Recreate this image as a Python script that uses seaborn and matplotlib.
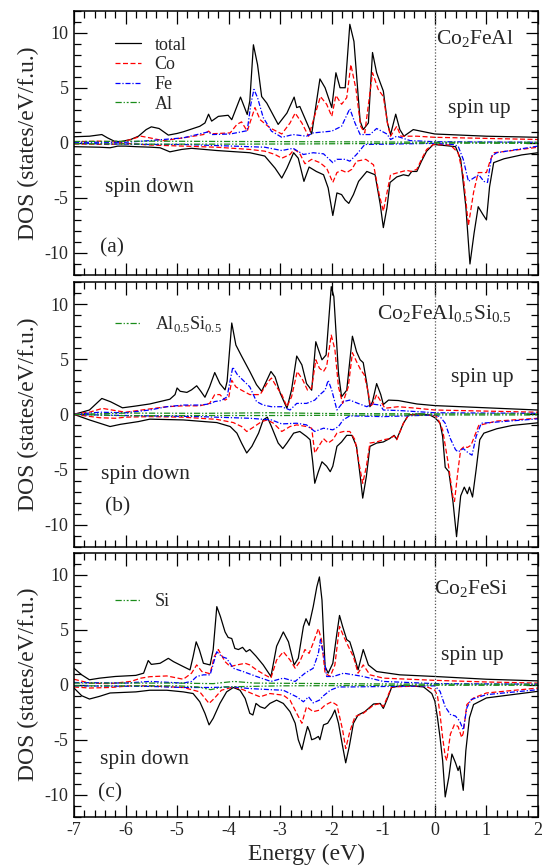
import numpy as np
import matplotlib
matplotlib.use('Agg')
import matplotlib.pyplot as plt
import seaborn as sns
from matplotlib.ticker import MultipleLocator

# ---- (a) Co2FeAl : (energy eV, DOS) ----
a_total_up = [(-7.0, 0.55), (-6.7, 0.6), (-6.46, 0.75), (-6.35, 0.45), (-6.22, 0.15), (-6.1, 0.1),
              (-5.9, 0.3), (-5.75, 0.6), (-5.6, 1.2), (-5.5, 1.45), (-5.35, 1.3), (-5.17, 0.7),
              (-5.0, 0.85), (-4.88, 1.0), (-4.56, 1.5), (-4.46, 1.8), (-4.39, 2.6), (-4.33, 1.97),
              (-4.2, 2.4), (-4.01, 2.5), (-3.94, 2.1), (-3.77, 4.15), (-3.64, 2.57), (-3.59, 3.8),
              (-3.52, 8.9), (-3.44, 7.1), (-3.36, 4.2), (-3.26, 3.6), (-3.04, 1.67), (-2.87, 2.7),
              (-2.73, 4.15), (-2.68, 3.2), (-2.62, 3.3), (-2.39, 0.8), (-2.23, 5.8), (-2.13, 5.0),
              (-2.0, 3.2), (-1.92, 6.36), (-1.84, 5.0), (-1.74, 5.0), (-1.65, 10.76), (-1.57, 9.2),
              (-1.45, 1.97), (-1.39, 1.2), (-1.29, 1.8), (-1.21, 8.2), (-1.13, 6.36), (-1.06, 5.45),
              (-1.0, 4.7), (-0.92, 1.8), (-0.86, 0.75), (-0.76, 2.6), (-0.68, 1.2), (-0.6, 0.6),
              (-0.42, 1.2), (0.0, 0.8), (1.0, 0.6), (2.0, 0.5)]
a_total_dn = [(-7.0, -0.35), (-6.5, -0.4), (-6.3, -0.45), (-6.15, -0.3), (-6.0, -0.3), (-5.8, -0.35),
              (-5.5, -0.4), (-5.33, -0.45), (-5.14, -0.82), (-4.91, -0.6), (-4.72, -0.5), (-4.23, -0.7),
              (-3.59, -0.9), (-3.3, -1.2), (-3.1, -2.3), (-2.97, -3.2), (-2.87, -2.3), (-2.74, -0.9),
              (-2.65, -1.4), (-2.54, -3.5), (-2.44, -2.2), (-2.3, -2.6), (-2.16, -2.9), (-2.07, -4.1),
              (-1.98, -6.6), (-1.9, -4.55), (-1.81, -4.7), (-1.74, -5.2), (-1.67, -5.5), (-1.58, -4.7),
              (-1.48, -3.5), (-1.32, -2.6), (-1.16, -2.9), (-1.06, -5.6), (-1.0, -7.7), (-0.93, -5.9),
              (-0.87, -3.6), (-0.74, -3.1), (-0.61, -2.9), (-0.51, -3.0), (-0.45, -2.6), (-0.35, -2.6),
              (-0.26, -1.67), (-0.16, -0.76), (-0.03, -0.15), (0.2, -0.25), (0.4, -0.35), (0.5, -1.5),
              (0.6, -5.8), (0.68, -11.0), (0.76, -8.2), (0.84, -5.8), (0.93, -6.5), (1.0, -7.0),
              (1.06, -4.0), (1.14, -1.8), (1.34, -1.45), (1.68, -1.1), (2.0, -0.9)]
a_co_up = [(-7.0, 0.1), (-6.5, 0.15), (-6.1, 0.05), (-5.9, 0.3), (-5.7, 0.6), (-5.53, 0.45),
           (-5.27, 0.2), (-4.88, 0.45), (-4.49, 0.75), (-4.39, 1.06), (-4.33, 0.82), (-3.97, 0.9),
           (-3.84, 1.67), (-3.75, 1.9), (-3.64, 1.06), (-3.49, 3.2), (-3.39, 2.1), (-3.2, 1.36),
           (-2.97, 0.8), (-2.81, 1.8), (-2.71, 2.7), (-2.58, 1.8), (-2.45, 0.6), (-2.22, 4.2),
           (-2.1, 3.5), (-2.0, 2.4), (-1.92, 4.3), (-1.81, 3.5), (-1.71, 4.1), (-1.63, 7.1),
           (-1.53, 4.85), (-1.44, 1.5), (-1.36, 0.9), (-1.21, 6.36), (-1.1, 4.85), (-1.0, 4.2),
           (-0.92, 1.8), (-0.86, 0.6), (-0.74, 1.5), (-0.66, 0.6), (-0.35, 0.6), (0.0, 0.5),
           (1.0, 0.4), (2.0, 0.3)]
a_co_dn = [(-7.0, -0.1), (-6.3, -0.15), (-6.0, -0.05), (-5.53, -0.2), (-4.88, -0.3), (-4.23, -0.4),
           (-3.59, -0.6), (-3.3, -0.76), (-3.1, -1.06), (-2.97, -1.4), (-2.81, -1.06), (-2.73, -0.6),
           (-2.63, -0.9), (-2.52, -1.9), (-2.39, -1.5), (-2.23, -1.8), (-2.1, -2.3), (-1.98, -3.6),
           (-1.9, -2.7), (-1.81, -2.5), (-1.71, -2.7), (-1.61, -2.4), (-1.52, -1.67), (-1.34, -1.5),
           (-1.19, -2.0), (-1.08, -4.7), (-1.0, -6.2), (-0.93, -4.55), (-0.86, -2.9), (-0.71, -2.7),
           (-0.55, -2.5), (-0.45, -2.6), (-0.35, -2.4), (-0.26, -1.5), (-0.16, -0.6), (-0.03, -0.15),
           (0.3, -0.2), (0.45, -0.9), (0.55, -3.0), (0.65, -7.5), (0.75, -4.5), (0.84, -2.7),
           (1.0, -2.7), (1.08, -1.5), (1.15, -0.9), (1.5, -0.7), (2.0, -0.4)]
a_fe_up = [(-7.0, 0.05), (-6.0, 0.05), (-5.53, 0.2), (-4.88, 0.45), (-4.39, 1.0), (-4.33, 0.75),
           (-3.97, 0.8), (-3.75, 1.0), (-3.64, 1.1), (-3.57, 3.5), (-3.51, 4.85), (-3.44, 4.1),
           (-3.33, 2.3), (-3.17, 1.06), (-2.97, 0.5), (-2.75, 0.75), (-2.49, 0.6), (-2.36, 0.9),
           (-2.0, 1.06), (-1.81, 1.5), (-1.65, 3.1), (-1.55, 1.8), (-1.45, 0.75), (-1.26, 0.75),
           (-1.13, 1.3), (-0.93, 0.8), (-0.86, 0.3), (-0.74, 0.6), (-0.48, 0.2), (0.0, 0.1), (2.0, 0.05)]
a_fe_dn = [(-7.0, -0.05), (-5.53, -0.15), (-4.88, -0.15), (-3.91, -0.3), (-3.3, -0.4), (-2.97, -0.7),
           (-2.75, -0.5), (-2.55, -1.06), (-2.36, -0.9), (-2.16, -1.0), (-1.98, -1.8), (-1.9, -1.5),
           (-1.74, -1.5), (-1.65, -1.67), (-1.52, -1.06), (-1.36, -0.15), (0.0, -0.05), (0.35, -0.15),
           (0.45, -0.3), (0.55, -1.5), (0.65, -3.5), (0.75, -3.2), (0.85, -2.9), (0.95, -3.5),
           (1.02, -3.6), (1.1, -1.2), (1.2, -0.9), (2.0, -0.3)]
a_sp_up = [(-7.0, 0.12), (-5.5, 0.15), (-4.0, 0.12), (-2.5, 0.1), (-1.0, 0.08), (0.0, 0.05), (2.0, 0.05)]
a_sp_dn = [(-7.0, -0.08), (-5.5, -0.12), (-4.0, -0.12), (-2.5, -0.1), (-1.0, -0.06), (0.0, -0.03), (2.0, -0.05)]

# ---- (b) Co2FeAl0.5Si0.5 ----
b_total_up = [(-7.0, 0.0), (-6.7, 0.4), (-6.46, 1.45), (-6.29, 1.15), (-6.06, 0.6), (-5.82, 0.75),
              (-5.53, 0.95), (-5.33, 1.17), (-5.14, 1.38), (-5.04, 1.8), (-5.0, 2.4), (-4.94, 2.1),
              (-4.81, 2.0), (-4.72, 2.23), (-4.62, 2.6), (-4.54, 2.1), (-4.46, 1.56), (-4.37, 2.5),
              (-4.27, 3.8), (-4.17, 2.8), (-4.07, 2.23), (-4.03, 3.0), (-3.94, 8.3), (-3.86, 6.3),
              (-3.75, 5.3), (-3.59, 3.9), (-3.46, 2.7), (-3.36, 2.1), (-3.26, 3.1), (-3.18, 3.9),
              (-3.1, 3.4), (-3.0, 1.93), (-2.87, 0.56), (-2.78, 2.23), (-2.68, 5.3), (-2.58, 4.5),
              (-2.49, 2.8), (-2.39, 2.2), (-2.31, 6.6), (-2.26, 5.9), (-2.19, 4.96), (-2.11, 5.4),
              (-2.01, 11.6), (-1.96, 10.7), (-1.87, 3.75), (-1.81, 1.6), (-1.71, 2.2), (-1.6, 7.1),
              (-1.52, 5.7), (-1.45, 4.96), (-1.39, 4.7), (-1.32, 2.8), (-1.26, 0.7), (-1.21, 1.17),
              (-1.13, 2.8), (-1.05, 1.8), (-1.0, 0.9), (-0.9, 1.3), (-0.71, 1.26), (-0.35, 0.95),
              (0.0, 0.8), (1.0, 0.6), (2.0, 0.4)]
b_total_dn = [(-7.0, 0.0), (-6.7, -0.5), (-6.5, -0.8), (-6.3, -1.1), (-6.1, -0.9), (-5.75, -0.65),
              (-5.53, -0.43), (-4.88, -0.5), (-4.23, -0.74), (-3.97, -1.1), (-3.84, -1.7), (-3.75, -2.6),
              (-3.65, -3.5), (-3.55, -2.9), (-3.42, -1.7), (-3.33, -0.5), (-3.25, -0.25), (-3.17, -1.1),
              (-3.04, -2.6), (-2.95, -3.1), (-2.87, -2.6), (-2.74, -1.7), (-2.62, -1.55), (-2.49, -2.0),
              (-2.42, -2.3), (-2.37, -4.3), (-2.33, -6.25), (-2.26, -5.2), (-2.19, -4.3), (-2.1, -4.7),
              (-2.03, -5.2), (-1.98, -4.7), (-1.9, -2.9), (-1.81, -2.5), (-1.71, -1.9), (-1.61, -1.9),
              (-1.52, -2.9), (-1.44, -5.95), (-1.4, -7.6), (-1.33, -5.65), (-1.26, -2.9), (-1.13, -2.6),
              (-1.0, -2.5), (-0.88, -2.2), (-0.79, -1.9), (-0.74, -2.25), (-0.61, -0.8), (-0.51, -0.04),
              (-0.3, 0.05), (-0.1, -0.05), (0.0, -0.3), (0.1, -0.8), (0.15, -2.0), (0.2, -4.8),
              (0.27, -5.2), (0.35, -7.9), (0.42, -11.1), (0.5, -7.4), (0.57, -6.6), (0.63, -7.2),
              (0.67, -6.6), (0.73, -7.5), (0.8, -5.0), (0.87, -2.3), (0.95, -1.7), (1.2, -1.3),
              (1.5, -1.0), (2.0, -0.76)]
b_co_up = [(-7.0, 0.05), (-6.7, 0.2), (-6.45, 0.55), (-6.2, 0.35), (-6.0, 0.2), (-5.53, 0.5),
           (-5.2, 0.7), (-4.88, 0.78), (-4.56, 0.78), (-4.37, 1.0), (-4.27, 1.8), (-4.17, 1.8),
           (-4.07, 1.3), (-4.0, 1.5), (-3.94, 3.1), (-3.86, 2.5), (-3.75, 2.2), (-3.59, 1.8),
           (-3.39, 1.8), (-3.23, 3.0), (-3.17, 3.3), (-3.07, 2.5), (-2.97, 1.8), (-2.87, 0.7),
           (-2.78, 1.6), (-2.67, 3.9), (-2.56, 3.1), (-2.47, 2.2), (-2.39, 2.4), (-2.31, 4.96),
           (-2.24, 4.2), (-2.16, 3.9), (-2.1, 4.35), (-2.01, 7.2), (-1.94, 5.9), (-1.87, 2.5),
           (-1.79, 1.0), (-1.68, 2.5), (-1.6, 5.6), (-1.52, 4.8), (-1.44, 4.05), (-1.37, 3.6),
           (-1.29, 1.93), (-1.25, 0.7), (-1.2, 1.0), (-1.13, 1.8), (-1.05, 1.2), (-0.97, 0.56),
           (-0.71, 0.7), (-0.35, 0.56), (0.0, 0.4), (1.0, 0.3), (2.0, 0.2)]
b_co_dn = [(-7.0, 0.0), (-6.5, -0.3), (-6.2, -0.35), (-6.0, -0.25), (-5.53, -0.2), (-4.88, -0.25),
           (-4.23, -0.45), (-3.91, -0.74), (-3.75, -1.1), (-3.65, -1.55), (-3.55, -1.25), (-3.36, -0.65),
           (-3.25, -0.5), (-3.13, -0.8), (-2.97, -1.55), (-2.81, -1.1), (-2.68, -0.95), (-2.49, -1.1),
           (-2.39, -1.25), (-2.33, -3.5), (-2.24, -2.8), (-2.16, -2.2), (-2.07, -2.6), (-1.98, -2.3),
           (-1.9, -1.7), (-1.77, -1.55), (-1.65, -1.55), (-1.55, -2.3), (-1.45, -5.0), (-1.4, -6.25),
           (-1.33, -4.75), (-1.26, -2.6), (-1.13, -2.5), (-1.0, -2.3), (-0.88, -2.2), (-0.79, -1.95),
           (-0.74, -2.3), (-0.61, -0.8), (-0.51, -0.04), (0.0, -0.1), (0.05, -0.3), (0.15, -1.4),
           (0.25, -4.2), (0.35, -7.5), (0.38, -7.9), (0.45, -5.0), (0.5, -3.2), (0.57, -2.9),
           (0.63, -3.0), (0.7, -2.8), (0.75, -2.2), (0.85, -1.0), (1.2, -0.6), (2.0, -0.35)]
b_fe_up = [(-7.0, 0.0), (-6.5, 0.2), (-6.0, 0.15), (-5.53, 0.4), (-5.2, 0.7), (-4.88, 0.85),
           (-4.56, 0.85), (-4.37, 0.95), (-4.27, 1.17), (-4.14, 1.26), (-4.03, 1.6), (-3.97, 3.1),
           (-3.92, 4.3), (-3.83, 3.6), (-3.72, 3.1), (-3.59, 2.5), (-3.46, 1.17), (-3.33, 0.85),
           (-3.17, 0.7), (-2.97, 0.7), (-2.81, 0.4), (-2.68, 1.0), (-2.49, 1.0), (-2.33, 1.3),
           (-2.23, 1.8), (-2.13, 2.2), (-2.07, 3.1), (-2.0, 2.2), (-1.9, 0.4), (-1.77, 1.17),
           (-1.65, 1.3), (-1.49, 1.0), (-1.32, 0.7), (-1.23, 0.95), (-1.06, 0.85), (-1.0, 0.4),
           (-0.68, 0.35), (0.0, 0.15), (2.0, 0.1)]
b_fe_dn = [(-7.0, 0.0), (-6.0, -0.1), (-5.53, -0.13), (-4.56, -0.2), (-3.59, -0.35), (-3.17, -0.5),
           (-2.97, -0.86), (-2.68, -0.8), (-2.49, -0.95), (-2.33, -1.55), (-2.16, -1.25), (-1.98, -1.4),
           (-1.87, -1.1), (-1.78, -0.5), (-1.65, -0.13), (-1.0, -0.2), (0.0, -0.05), (0.1, -0.2),
           (0.2, -0.8), (0.3, -2.2), (0.4, -3.2), (0.45, -3.4), (0.55, -3.1), (0.65, -3.5),
           (0.72, -3.7), (0.8, -2.0), (0.9, -0.8), (2.0, -0.4)]
b_sp_up = [(-7.0, 0.0), (-6.0, 0.12), (-4.5, 0.1), (-3.2, 0.15), (-2.0, 0.08), (0.0, 0.05), (2.0, 0.05)]
b_sp_dn = [(-7.0, 0.0), (-6.0, -0.12), (-4.5, -0.1), (-3.0, -0.1), (-2.0, -0.08), (0.0, -0.05), (2.0, -0.05)]

# ---- (c) Co2FeSi ----
c_total_up = [(-7.0, 1.5), (-6.85, 0.9), (-6.7, 0.45), (-6.5, 0.6), (-6.2, 0.75), (-5.8, 0.85),
              (-5.65, 1.05), (-5.56, 2.2), (-5.5, 1.85), (-5.33, 1.95), (-5.17, 2.4), (-5.07, 2.1),
              (-4.88, 1.65), (-4.75, 1.35), (-4.69, 2.55), (-4.63, 3.9), (-4.57, 3.2), (-4.49, 1.95),
              (-4.36, 1.8), (-4.3, 3.2), (-4.23, 7.1), (-4.16, 6.2), (-4.07, 4.8), (-4.01, 4.3),
              (-3.94, 4.2), (-3.88, 3.3), (-3.81, 3.2), (-3.73, 3.4), (-3.66, 3.0), (-3.59, 3.2),
              (-3.47, 2.6), (-3.33, 1.8), (-3.18, 0.75), (-3.07, 3.5), (-2.94, 4.8), (-2.84, 3.9),
              (-2.73, 1.8), (-2.65, 2.4), (-2.55, 5.3), (-2.5, 6.0), (-2.44, 5.4), (-2.36, 7.1),
              (-2.29, 8.9), (-2.24, 9.8), (-2.19, 7.7), (-2.13, 1.65), (-2.07, 1.05), (-1.98, 1.95),
              (-1.9, 4.7), (-1.85, 6.3), (-1.79, 5.3), (-1.71, 4.1), (-1.65, 3.9), (-1.58, 2.85),
              (-1.49, 1.35), (-1.39, 3.2), (-1.29, 1.8), (-1.13, 1.2), (-0.68, 0.9), (0.0, 0.75),
              (1.0, 0.5), (2.0, 0.35)]
c_total_dn = [(-7.0, -0.3), (-6.85, -1.0), (-6.7, -1.3), (-6.5, -1.05), (-6.3, -0.75), (-5.8, -0.65),
              (-5.53, -0.5), (-5.2, -0.5), (-4.88, -0.65), (-4.69, -0.8), (-4.56, -1.55), (-4.46, -2.6),
              (-4.38, -3.65), (-4.3, -3.05), (-4.17, -1.7), (-4.04, -0.65), (-3.91, -0.25), (-3.78, -0.5),
              (-3.68, -1.25), (-3.59, -2.6), (-3.53, -2.75), (-3.47, -1.7), (-3.39, -2.0), (-3.3, -2.15),
              (-3.2, -1.7), (-3.07, -1.4), (-2.94, -1.7), (-2.81, -2.45), (-2.71, -3.5), (-2.65, -5.0),
              (-2.58, -5.9), (-2.52, -4.7), (-2.47, -3.8), (-2.43, -4.25), (-2.39, -5.0), (-2.33, -4.9),
              (-2.26, -4.7), (-2.23, -5.0), (-2.16, -3.65), (-2.08, -3.5), (-2.0, -2.9), (-1.94, -2.3),
              (-1.87, -3.5), (-1.79, -5.6), (-1.73, -7.1), (-1.66, -5.6), (-1.58, -3.5), (-1.49, -2.75),
              (-1.36, -2.45), (-1.19, -1.75), (-1.06, -1.7), (-1.0, -2.15), (-0.92, -1.25), (-0.84, -0.25),
              (-0.6, -0.05), (-0.22, -0.2), (-0.06, -0.8), (0.0, -1.5), (0.05, -3.0), (0.1, -4.8),
              (0.15, -6.9), (0.2, -10.2), (0.27, -8.4), (0.33, -6.3), (0.4, -7.1), (0.45, -7.8),
              (0.48, -7.4), (0.55, -9.6), (0.6, -6.0), (0.67, -3.0), (0.75, -1.8), (1.0, -1.2),
              (1.5, -0.9), (2.0, -0.6)]
c_co_up = [(-7.0, 0.5), (-6.7, 0.15), (-6.3, 0.1), (-5.9, 0.3), (-5.7, 0.6), (-5.53, 0.73),
           (-5.2, 0.8), (-4.88, 0.5), (-4.72, 1.05), (-4.62, 1.8), (-4.52, 1.2), (-4.36, 1.0),
           (-4.28, 2.55), (-4.2, 3.2), (-4.07, 2.1), (-3.97, 1.65), (-3.84, 1.8), (-3.68, 1.95),
           (-3.59, 1.8), (-3.46, 1.35), (-3.3, 0.9), (-3.18, 0.6), (-3.07, 2.25), (-2.94, 3.0),
           (-2.81, 2.25), (-2.71, 1.5), (-2.62, 2.1), (-2.52, 3.2), (-2.44, 2.85), (-2.36, 3.8),
           (-2.26, 5.1), (-2.2, 4.1), (-2.13, 1.05), (-2.03, 0.75), (-1.94, 1.8), (-1.85, 5.3),
           (-1.77, 4.4), (-1.68, 3.5), (-1.58, 2.55), (-1.49, 1.05), (-1.39, 1.8), (-1.26, 0.9),
           (-1.0, 0.6), (0.0, 0.4), (1.0, 0.25), (2.0, 0.15)]
c_co_dn = [(-7.0, -0.2), (-6.7, -0.3), (-6.3, -0.25), (-5.9, -0.1), (-5.53, -0.1), (-4.88, -0.25),
           (-4.56, -0.65), (-4.38, -1.7), (-4.28, -1.25), (-4.14, -0.5), (-3.91, -0.2), (-3.72, -0.45),
           (-3.55, -0.8), (-3.39, -1.1), (-3.2, -0.8), (-2.94, -0.95), (-2.81, -1.4), (-2.68, -2.6),
           (-2.58, -3.5), (-2.49, -2.0), (-2.36, -2.45), (-2.23, -2.3), (-2.13, -1.85), (-2.0, -1.55),
           (-1.9, -1.85), (-1.79, -4.1), (-1.73, -5.8), (-1.65, -4.25), (-1.55, -2.9), (-1.39, -2.6),
           (-1.19, -1.85), (-1.06, -1.7), (-1.0, -2.0), (-0.92, -1.1), (-0.84, -0.2), (-0.2, -0.1),
           (0.0, -0.5), (0.05, -1.0), (0.1, -2.7), (0.15, -4.8), (0.2, -6.5), (0.23, -6.9),
           (0.3, -4.5), (0.38, -3.6), (0.45, -3.8), (0.52, -4.8), (0.55, -4.4), (0.62, -1.8),
           (0.75, -1.2), (1.0, -0.75), (2.0, -0.3)]
c_fe_up = [(-7.0, 0.2), (-6.0, 0.15), (-5.53, 0.3), (-4.88, 0.15), (-4.72, 0.3), (-4.62, 0.75),
           (-4.49, 0.9), (-4.36, 0.9), (-4.23, 3.0), (-4.13, 2.55), (-4.04, 2.4), (-3.91, 1.5),
           (-3.72, 1.2), (-3.46, 0.75), (-3.18, 0.3), (-2.94, 0.6), (-2.71, 0.3), (-2.52, 1.05),
           (-2.36, 1.5), (-2.26, 2.85), (-2.22, 4.1), (-2.15, 2.55), (-2.1, 0.75), (-1.97, 0.75),
           (-1.77, 1.05), (-1.58, 0.9), (-1.39, 0.75), (-1.0, 0.3), (0.0, 0.1), (2.0, 0.05)]
c_fe_dn = [(-7.0, -0.1), (-5.53, -0.15), (-4.88, -0.25), (-4.36, -0.25), (-3.91, -0.2), (-3.59, -0.35),
           (-3.18, -0.45), (-2.94, -0.5), (-2.68, -1.1), (-2.55, -1.55), (-2.45, -1.1), (-2.36, -1.65),
           (-2.24, -1.4), (-2.16, -1.0), (-2.03, -0.5), (-1.87, -0.2), (-1.65, -0.2), (0.0, -0.1),
           (0.1, -0.6), (0.2, -2.0), (0.3, -2.7), (0.4, -2.85), (0.48, -3.3), (0.55, -4.1),
           (0.62, -2.1), (0.7, -1.35), (1.0, -0.9), (2.0, -0.45)]
c_sp_up = [(-7.0, 0.15), (-5.0, 0.15), (-4.3, 0.1), (-3.9, 0.3), (-3.5, 0.15), (-2.0, 0.1), (0.0, 0.05), (2.0, 0.05)]
c_sp_dn = [(-7.0, -0.1), (-5.0, -0.1), (-4.6, -0.2), (-4.35, -0.45), (-4.1, -0.2), (-3.0, -0.1), (0.0, -0.05), (2.0, -0.05)]

panel_tags = ['(a)', '(b)', '(c)']
compounds = [r'Co$_\mathrm{2}$FeAl', r'Co$_\mathrm{2}$FeAl$_\mathrm{0.5}$Si$_\mathrm{0.5}$', r'Co$_\mathrm{2}$FeSi']
sp_names = ['Al', r'Al$_\mathrm{0.5}$Si$_\mathrm{0.5}$', 'Si']

sns.set_theme(style='ticks')
plt.rcParams['font.family'] = ['Liberation Serif', 'DejaVu Serif']
plt.rcParams['mathtext.fontset'] = 'custom'
plt.rcParams['mathtext.rm'] = 'Liberation Serif'
plt.rcParams['axes.unicode_minus'] = False

RED, BLUE, GREEN = '#ff0000', '#0000ff', '#1a8c1a'
LS_CO = (0, (4, 2))
LS_FE = (0, (4, 1.5, 1, 1.5))
LS_SP = (0, (5, 1.5, 1, 1.5, 1.5, 1.5))


def draw(ax, pts, color, ls, label=None):
    e, d = np.array(pts).T
    sns.lineplot(x=e, y=d, ax=ax, color=color, linestyle=ls, lw=0.9,
                 estimator=None, sort=False, label=label)


fig = plt.figure(figsize=(5.44, 8.65), dpi=100)
boxes = [(0.136, 0.6821, 0.853, 0.3056),
         (0.136, 0.3681, 0.853, 0.3056),
         (0.136, 0.0558, 0.853, 0.3052)]

panels = [
    (a_total_up, a_total_dn, a_co_up, a_co_dn, a_fe_up, a_fe_dn, a_sp_up, a_sp_dn),
    (b_total_up, b_total_dn, b_co_up, b_co_dn, b_fe_up, b_fe_dn, b_sp_up, b_sp_dn),
    (c_total_up, c_total_dn, c_co_up, c_co_dn, c_fe_up, c_fe_dn, c_sp_up, c_sp_dn),
]

# text positions (data coords): compound, spin up, spin down, tag
txt_pos = [
    [(0.03, 8.9), (0.26, 2.75), (-6.39, -4.5), (-6.49, -10.0)],
    [(-1.13, 8.6), (0.32, 2.95), (-6.48, -5.9), (-6.4, -8.85)],
    [(-0.02, 8.2), (0.11, 2.25), (-6.5, -7.2), (-6.53, -10.25)],
]
leg_top = [0.902, 0.879, 0.846]

for i, ax in enumerate([fig.add_axes(b) for b in boxes]):
    tot_u, tot_d, co_u, co_d, fe_u, fe_d, sp_u, sp_d = panels[i]
    first = i == 0
    draw(ax, tot_u, 'black', '-', 'total' if first else None)
    draw(ax, tot_d, 'black', '-')
    draw(ax, co_u, RED, LS_CO, 'Co' if first else None)
    draw(ax, co_d, RED, LS_CO)
    draw(ax, fe_u, BLUE, LS_FE, 'Fe' if first else None)
    draw(ax, fe_d, BLUE, LS_FE)
    draw(ax, sp_u, GREEN, LS_SP, sp_names[i])
    draw(ax, sp_d, GREEN, LS_SP)
    ax.axvline(0, color='#555555', ls=(0, (1, 1.5)), lw=0.9)

    ax.set_xlim(-7, 2)
    ax.set_ylim(-12, 12)
    ax.set_yticks([-10, -5, 0, 5, 10])
    ax.xaxis.set_major_locator(MultipleLocator(1))
    ax.xaxis.set_minor_locator(MultipleLocator(0.2))
    ax.yaxis.set_minor_locator(MultipleLocator(1))
    ax.tick_params(which='both', direction='in', top=True, right=True,
                   bottom=True, left=True, color='black', width=0.9)
    ax.tick_params(which='major', length=9, labelsize=13, pad=4)
    ax.tick_params(which='minor', length=5)
    for sp in ax.spines.values():
        sp.set_color('black')
        sp.set_linewidth(1.1)
    ax.set_ylabel('DOS (states/eV/f.u.)', fontsize=17, labelpad=4)
    if i < 2:
        ax.set_xticklabels([])
        ax.set_xlabel('')
    else:
        ax.set_xticks(range(-7, 3))
        ax.set_xticklabels([str(v) for v in range(-7, 3)])
        ax.set_xlabel('Energy (eV)', fontsize=17, labelpad=3)

    handles, labels = ax.get_legend_handles_labels()
    ax.legend(handles, labels, loc='upper left', bbox_to_anchor=(0.088, leg_top[i]),
              frameon=False, fontsize=13, handlelength=1.45, handletextpad=0.75,
              labelspacing=0.15, borderpad=0, borderaxespad=0)

    pc, pu, pd, pt = txt_pos[i]
    ax.text(pc[0], pc[1], compounds[i], fontsize=15.5, ha='left', va='baseline')
    ax.text(pu[0], pu[1], 'spin up', fontsize=15.5, ha='left', va='baseline')
    ax.text(pd[0], pd[1], 'spin down', fontsize=15.5, ha='left', va='baseline')
    ax.text(pt[0], pt[1], panel_tags[i], fontsize=15.5, ha='left', va='baseline')

fig.savefig('out.png', dpi=100)
